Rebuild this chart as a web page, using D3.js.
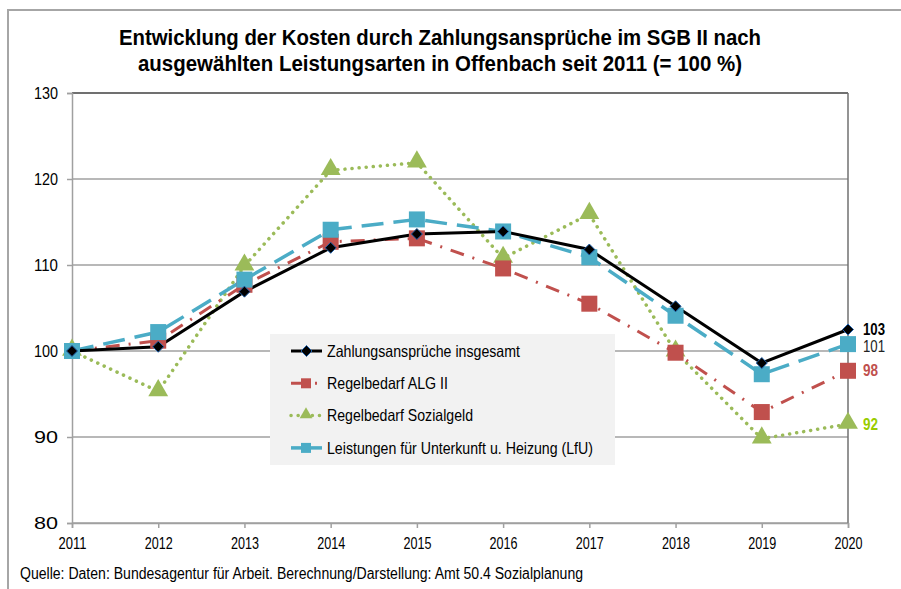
<!DOCTYPE html>
<html>
<head>
  <meta charset="utf-8">
  <title>Kosten SGB II Offenbach</title>
  <script src="https://cdn.jsdelivr.net/npm/d3@7/dist/d3.min.js"></script>
  <style>
    body { margin: 0; background: #fff; }
    text { font-family: "Liberation Sans Narrow", "Arial Narrow", "Liberation Sans", Arial, sans-serif; }
  </style>
</head>
<body>
  <svg width="901" height="589"></svg>
  <script>
  // Daten (2011 = 100)
  var years = [2011, 2012, 2013, 2014, 2015, 2016, 2017, 2018, 2019, 2020];
  var insgesamt = [100, 100.5, 106.9, 112.0, 113.6, 113.9, 111.8, 105.2, 98.6, 102.5];
  var alg2 = [100, 101.2, 107.7, 112.7, 113.1, 109.6, 105.5, 99.8, 92.9, 97.7];
  var sozialgeld = [100, 95.3, 109.9, 121.0, 121.9, 110.8, 115.9, 99.9, 89.8, 91.5];
  var kdu = [100, 102.2, 108.3, 114.1, 115.3, 113.9, 110.9, 104.1, 97.3, 100.8];
  var yTicks = [80, 90, 100, 110, 120, 130];
  var endLabels = ["103", "101", "98", "92"];

  var series = [
    { name: "Zahlungsansprüche insgesamt", nameW: 193, values: insgesamt, color: "#000000", dash: null, width: 3, marker: "diamond", label: endLabels[0], labelColor: "#000", bold: true },
    { name: "Regelbedarf ALG II", nameW: 121, values: alg2, color: "#c0504d", dash: "14,9,2,9", width: 3, marker: "square", label: endLabels[2], labelColor: "#c0504d", bold: true },
    { name: "Regelbedarf Sozialgeld", nameW: 146, values: sozialgeld, color: "#9bbb59", dash: "0.1,7", width: 3.5, marker: "triangle", label: endLabels[3], labelColor: "#99cc00", bold: true },
    { name: "Leistungen für Unterkunft u. Heizung (LfU)", nameW: 266, values: kdu, color: "#4bacc6", dash: "22,10", width: 3.5, marker: "square", label: endLabels[1], labelColor: "#222", bold: false }
  ];

  var svg = d3.select("svg");
  var pLeft = 72, pRight = 848, pTop = 93, pBottom = 523;

  var x = d3.scalePoint().domain(years).range([pLeft, pRight]);
  var y = d3.scaleLinear().domain([80, 130]).range([pBottom, pTop]);

  // schmale Schrift nachbilden
  function squeeze(sel, w) {
    sel.attr("textLength", w).attr("lengthAdjust", "spacingAndGlyphs");
  }

  // Rahmen (nur oben und links sichtbar)
  svg.append("path")
    .attr("d", "M8,589 L8,10 L901,10")
    .attr("fill", "none")
    .attr("stroke", "#a6a6a6")
    .attr("stroke-width", 2);

  // Titel
  var t1 = svg.append("text")
    .attr("x", 440).attr("y", 45)
    .attr("text-anchor", "middle")
    .attr("font-weight", "bold")
    .attr("font-size", 22)
    .text("Entwicklung der Kosten durch Zahlungsansprüche im SGB II nach");
  squeeze(t1, 642);
  var t2 = svg.append("text")
    .attr("x", 440).attr("y", 71)
    .attr("text-anchor", "middle")
    .attr("font-weight", "bold")
    .attr("font-size", 22)
    .text("ausgewählten Leistungsarten in Offenbach seit 2011 (= 100 %)");
  squeeze(t2, 604);

  // Gitterlinien
  svg.append("g")
    .selectAll("line")
    .data(yTicks)
    .enter()
    .append("line")
    .attr("x1", pLeft).attr("x2", pRight)
    .attr("y1", function(d) { return y(d); })
    .attr("y2", function(d) { return y(d); })
    .attr("stroke", function(d) { return d === 130 ? "#404040" : "#a0a0a0"; })
    .attr("stroke-width", 1.5);

  // rechte Linie
  svg.append("line")
    .attr("x1", pRight).attr("x2", pRight)
    .attr("y1", pTop).attr("y2", pBottom)
    .attr("stroke", "#707070").attr("stroke-width", 1.5);

  // Achsen
  var yAxis = svg.append("g")
    .attr("transform", "translate(" + pLeft + ",0)")
    .call(d3.axisLeft(y).tickValues(yTicks).tickSize(5).tickPadding(9));
  var xAxis = svg.append("g")
    .attr("transform", "translate(0," + pBottom + ")")
    .call(d3.axisBottom(x).tickSize(5).tickPadding(9).tickFormat(d3.format("d")));
  [yAxis, xAxis].forEach(function(a) {
    a.attr("font-size", null).attr("font-family", null);
    a.select(".domain").attr("stroke", "#a0a0a0").attr("stroke-width", 1.5);
    a.selectAll(".tick line").attr("stroke", "#a0a0a0").attr("stroke-width", 1.5);
    a.selectAll(".tick text").attr("fill", "#000").style("font-size", "16.5px");
  });
  squeeze(yAxis.selectAll(".tick text"), 24);
  squeeze(xAxis.selectAll(".tick text"), 28);

  // Linien
  var line = d3.line()
    .x(function(d, i) { return x(years[i]); })
    .y(function(d) { return y(d); });

  var drawOrder = [2, 1, 3, 0];
  drawOrder.forEach(function(k) {
    var s = series[k];
    svg.append("path")
      .datum(s.values)
      .attr("d", line)
      .attr("fill", "none")
      .attr("stroke", s.color)
      .attr("stroke-width", s.width)
      .attr("stroke-linecap", s.marker === "triangle" ? "round" : "butt")
      .attr("stroke-dasharray", s.dash);
  });

  function drawMarker(g, type, cx, cy, color) {
    if (type === "square") {
      g.append("rect").attr("x", cx - 8).attr("y", cy - 8)
        .attr("width", 16).attr("height", 16).attr("fill", color);
    } else if (type === "triangle") {
      g.append("path")
        .attr("d", d3.symbol().type(d3.symbolTriangle).size(170)())
        .attr("transform", "translate(" + cx + "," + (cy - 1) + ")")
        .attr("fill", color);
    } else {
      g.append("path")
        .attr("d", "M" + cx + "," + (cy - 5.5) + "L" + (cx + 5.5) + "," + cy +
          "L" + cx + "," + (cy + 5.5) + "L" + (cx - 5.5) + "," + cy + "Z")
        .attr("fill", "#000").attr("stroke", "#1f5fa8").attr("stroke-width", 1);
    }
  }

  drawOrder.forEach(function(k) {
    var s = series[k];
    var g = svg.append("g");
    s.values.forEach(function(v, i) {
      drawMarker(g, s.marker, x(years[i]), y(v), s.color);
    });
  });

  // Endwerte
  var labelY = [329, 370, 424, 346];
  series.forEach(function(s, k) {
    var lt = svg.append("text")
      .attr("x", pRight + 15)
      .attr("y", labelY[k])
      .attr("dy", "0.35em")
      .attr("font-size", 16)
      .attr("font-weight", s.bold ? "bold" : "normal")
      .attr("fill", s.labelColor)
      .text(s.label);
    squeeze(lt, s.label.length === 3 ? 22 : 15);
  });

  // Legende
  var legend = svg.append("g");
  legend.append("rect")
    .attr("x", 270).attr("y", 334)
    .attr("width", 345).attr("height", 131)
    .attr("fill", "#f2f2f2");
  series.forEach(function(s, k) {
    var ly = 351 + k * 32.3;
    var lg = legend.append("g");
    lg.append("line")
      .attr("x1", 291).attr("x2", 322)
      .attr("y1", ly).attr("y2", ly)
      .attr("stroke", s.color)
      .attr("stroke-width", s.width)
      .attr("stroke-linecap", s.marker === "triangle" ? "round" : "butt")
      .attr("stroke-dasharray", s.marker === "diamond" ? null :
        s.marker === "triangle" ? "0.1,7" : s.dash === "22,10" ? null : "18,6,2,6");
    if (s.marker === "diamond") {
      drawMarker(lg, "diamond", 306.5, ly, s.color);
    } else if (s.marker === "triangle") {
      lg.append("path")
        .attr("d", d3.symbol().type(d3.symbolTriangle).size(70)())
        .attr("transform", "translate(306," + (ly - 1) + ")")
        .attr("fill", s.color);
    } else {
      lg.append("rect").attr("x", 301).attr("y", ly - 5)
        .attr("width", 10).attr("height", 10).attr("fill", s.color);
    }
    var lt = lg.append("text")
      .attr("x", 327).attr("y", ly)
      .attr("dy", "0.35em")
      .attr("font-size", 16.5)
      .attr("fill", "#000")
      .text(s.name);
    squeeze(lt, s.nameW);
  });

  // Quelle
  var src = svg.append("text")
    .attr("x", 20).attr("y", 579)
    .attr("font-size", 16)
    .attr("fill", "#000")
    .text("Quelle: Daten: Bundesagentur für Arbeit. Berechnung/Darstellung: Amt 50.4 Sozialplanung");
  squeeze(src, 563);
  </script>
</body>
</html>
